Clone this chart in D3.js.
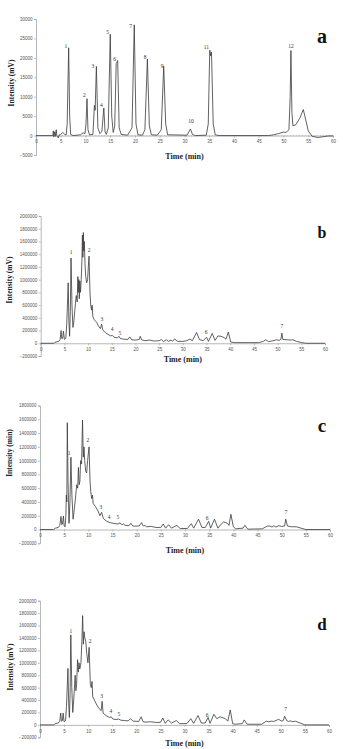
<!DOCTYPE html>
<html>
<head>
<meta charset="utf-8">
<script src="https://cdn.jsdelivr.net/npm/d3@7"></script>
<style>
  html, body { margin: 0; padding: 0; background: #fff; }
  svg { display: block; }
</style>
</head>
<body>
<svg id="chart" width="343" height="749"></svg>
<script>
// ─── Data ───
const timeTicks = [0, 5, 10, 15, 20, 25, 30, 35, 40, 45, 50, 55, 60];
const ticksA = [-5000, 0, 5000, 10000, 15000, 20000, 25000, 30000];
const ticksB = [-200000, 0, 200000, 400000, 600000, 800000, 1000000, 1200000, 1400000, 1600000, 1800000, 2000000];
const ticksC = [-200000, 0, 200000, 400000, 600000, 800000, 1000000, 1200000, 1400000, 1600000, 1800000];
const ticksD = ticksB;

// [time (min), intensity]
const traceA = [[0,0],[3.4,0],[3.5,1200],[3.6,-300],[3.8,1000],[3.9,-200],[4.1,1500],[4.2,0],[4.5,-600],[4.7,200],[5.0,300],[5.4,800],[5.8,300],[6.1,200],[6.3,3000],[6.6,22600],[6.8,5000],[7.0,300],[7.5,0],[9.0,200],[9.5,700],[9.9,500],[10.1,3000],[10.3,9500],[10.5,1500],[10.8,200],[11.5,300],[11.8,7800],[11.95,6500],[12.2,17800],[12.5,2000],[12.9,500],[13.3,1000],[13.7,7100],[13.95,1000],[14.2,300],[14.6,2000],[15.0,26100],[15.3,5000],[15.6,800],[15.9,2500],[16.2,18500],[16.5,19300],[16.8,2000],[17.2,300],[18.5,100],[19.4,2000],[19.85,28500],[20.2,3000],[20.6,200],[21.5,100],[22.0,1500],[22.5,19700],[22.9,2500],[23.3,200],[24.5,100],[25.3,1500],[25.8,17800],[26.2,3000],[26.6,200],[30.5,100],[31.0,1200],[31.2,1700],[31.6,300],[32.2,0],[34.4,100],[34.8,3000],[35.1,22000],[35.3,20500],[35.45,21500],[35.8,3000],[36.2,200],[37,0],[47,0],[48,200],[49,500],[50,900],[50.5,800],[51.1,1500],[51.35,10000],[51.5,21900],[51.7,6000],[51.9,2500],[52.5,2800],[53.3,4500],[54.0,6700],[54.5,4000],[55.0,1200],[55.8,-200],[57,-500],[58,-300],[59,-100],[60,-100]];

const traceB = [[0,0],[2.8,0],[3.0,15000],[3.8,30000],[4.1,60000],[4.3,200000],[4.45,70000],[4.65,80000],[4.8,190000],[5.0,60000],[5.3,80000],[5.5,300000],[5.8,950000],[5.95,350000],[6.1,110000],[6.25,500000],[6.4,1340000],[6.6,600000],[6.8,250000],[7.0,350000],[7.3,600000],[7.5,750000],[7.7,650000],[7.85,1050000],[7.95,800000],[8.05,1000000],[8.15,700000],[8.25,980000],[8.4,800000],[8.55,1000000],[8.7,1300000],[8.8,1700000],[8.9,1350000],[9.0,1740000],[9.1,1450000],[9.2,1600000],[9.35,1250000],[9.5,1050000],[9.7,950000],[9.9,1000000],[10.05,1200000],[10.2,1370000],[10.4,800000],[10.55,600000],[10.75,520000],[10.85,600000],[11.0,420000],[11.3,370000],[11.8,330000],[12.2,270000],[12.6,230000],[12.85,300000],[13.1,210000],[13.6,170000],[14.2,140000],[14.8,115000],[15.1,125000],[15.5,95000],[16.2,85000],[16.5,110000],[16.8,75000],[17.5,65000],[18.4,60000],[18.8,100000],[19.2,55000],[20.0,50000],[20.8,60000],[21.0,110000],[21.3,55000],[22.0,40000],[23.0,50000],[24.0,35000],[25.0,40000],[25.5,60000],[25.9,25000],[26.5,55000],[27.0,30000],[27.5,50000],[27.8,35000],[28.3,65000],[28.9,30000],[30.0,30000],[30.8,40000],[31.5,65000],[32.0,40000],[32.9,170000],[33.5,60000],[34.3,40000],[35.0,95000],[35.4,30000],[36.2,155000],[36.8,45000],[37.4,115000],[38.0,110000],[38.7,90000],[39.1,65000],[39.6,175000],[40.1,20000],[41,10000],[46,10000],[47.0,30000],[47.5,55000],[48.1,25000],[49.0,40000],[49.8,55000],[50.3,45000],[50.7,60000],[50.9,160000],[51.1,60000],[52.0,55000],[52.8,50000],[53.2,55000],[54.0,30000],[55.0,12000],[56.0,0],[60,0]];

const traceC = [[0,0],[2.8,0],[3.2,20000],[3.8,30000],[4.1,60000],[4.35,190000],[4.5,70000],[4.65,80000],[4.85,195000],[5.0,50000],[5.2,40000],[5.35,200000],[5.45,500000],[5.55,400000],[5.65,1550000],[5.8,700000],[6.0,90000],[6.2,400000],[6.4,1050000],[6.6,500000],[6.85,150000],[7.1,300000],[7.4,500000],[7.6,650000],[7.8,600000],[7.95,900000],[8.1,650000],[8.25,700000],[8.4,1000000],[8.6,950000],[8.8,1590000],[8.95,1050000],[9.1,1200000],[9.25,1000000],[9.45,850000],[9.65,820000],[9.85,1000000],[10.15,1200000],[10.35,700000],[10.5,550000],[10.7,450000],[10.85,500000],[11.0,380000],[11.5,330000],[12.0,270000],[12.4,200000],[12.75,250000],[13.1,160000],[13.8,120000],[14.5,100000],[15.5,85000],[16.3,80000],[16.5,100000],[16.9,70000],[17.3,80000],[17.6,60000],[18.4,55000],[18.8,90000],[19.2,50000],[20.5,50000],[21.0,100000],[21.4,50000],[21.7,60000],[22.0,40000],[23.0,45000],[24.0,30000],[25.0,30000],[25.5,80000],[26.0,20000],[26.6,70000],[27.2,20000],[28.3,60000],[29.0,15000],[30.5,15000],[31.3,85000],[31.8,20000],[32.8,150000],[33.5,30000],[34.2,30000],[34.9,120000],[35.3,20000],[36.1,150000],[36.8,20000],[37.5,80000],[38.0,110000],[38.8,90000],[39.1,60000],[39.5,220000],[40.0,40000],[40.5,10000],[42.0,20000],[42.4,60000],[43.0,5000],[46,10000],[47.0,50000],[47.6,50000],[48.0,35000],[48.4,55000],[48.8,35000],[49.3,55000],[50.0,45000],[50.6,50000],[50.85,150000],[51.2,50000],[52.0,40000],[53.0,40000],[54.0,20000],[55.0,0],[60,0]];

const traceD = [[0,0],[2.8,0],[3.2,20000],[3.8,30000],[4.1,60000],[4.3,190000],[4.45,60000],[4.65,70000],[4.8,190000],[5.0,50000],[5.3,70000],[5.5,300000],[5.8,910000],[5.95,350000],[6.1,120000],[6.25,500000],[6.4,1450000],[6.6,600000],[6.8,200000],[7.0,400000],[7.3,800000],[7.45,550000],[7.6,650000],[7.8,1050000],[7.95,850000],[8.1,1000000],[8.25,900000],[8.4,950000],[8.5,1000000],[8.7,1350000],[8.85,1760000],[9.0,1300000],[9.15,1500000],[9.3,1400000],[9.5,1350000],[9.7,1150000],[9.95,1000000],[10.2,1250000],[10.45,650000],[10.65,600000],[10.8,700000],[10.95,450000],[11.3,400000],[11.8,320000],[12.3,260000],[12.7,230000],[12.9,380000],[13.1,190000],[13.7,150000],[14.4,120000],[14.8,130000],[15.1,95000],[15.8,85000],[16.3,95000],[16.8,75000],[17.5,70000],[18.3,65000],[18.8,100000],[19.3,60000],[20.5,55000],[21.0,130000],[21.4,50000],[22.0,45000],[23.0,50000],[24.0,40000],[25.0,40000],[25.5,110000],[26.0,25000],[26.6,80000],[27.3,30000],[28.3,70000],[29.0,20000],[30.5,20000],[31.3,100000],[31.9,25000],[32.8,150000],[33.5,30000],[34.3,30000],[34.9,120000],[35.3,25000],[36.1,170000],[36.7,100000],[37.4,130000],[38.5,100000],[39.0,60000],[39.5,240000],[40.0,20000],[40.5,10000],[42.0,20000],[42.4,80000],[43.0,10000],[46,10000],[47.0,60000],[47.5,50000],[48.0,60000],[48.5,55000],[49.0,70000],[49.5,90000],[50.2,60000],[50.5,70000],[50.8,140000],[51.2,70000],[51.6,55000],[52.0,65000],[52.5,50000],[53.0,60000],[54.0,30000],[55.0,0],[60,0]];

// peak labels: [text, time, intensity]
const labelsA = [['1',6.05,23150],['2',9.75,10500],['3',11.5,18000],['4',13.2,7900],['5',14.45,26600],['6',15.9,19700],['7',19.1,28300],['8',22.05,20100],['9',25.5,18000],['10',31.3,3700],['11',34.4,22700],['12',51.5,23150]];
const labelsB = [['1',6.4,1427000],['2',10.2,1458000],['3',12.9,383000],['4',15.1,225000],['5',16.7,167000],['6',34.9,183000],['7',50.9,272000]];
const labelsC = [['1',6.0,1110000],['2',9.9,1294000],['3',12.6,319000],['4',14.3,183000],['5',16.1,183000],['6',34.6,168000],['7',50.9,246000]];
const labelsD = [['1',6.4,1505000],['2',10.4,1343000],['3',12.8,456000],['4',14.7,215000],['5',16.4,182000],['6',34.7,161000],['7',51.0,247000]];

// ─── Layout per panel ───
const panels = [
  { letter: 'a', trace: traceA, labels: labelsA, yTicks: ticksA, yTitle: 'Intensity (mV)',
    x: [36, 333], y: [155, 19], titleY: 159, yTitleX: 11, yTitleY: 83, letterPos: [322, 43], letterSize: 20, zeroDash: true },
  { letter: 'b', trace: traceB, labels: labelsB, yTicks: ticksB, yTitle: 'Intensity (mV)',
    x: [40.7, 325], y: [356, 216], titleY: 362, yTitleX: 9, yTitleY: 280, letterPos: [322, 238], letterSize: 16 },
  { letter: 'c', trace: traceC, labels: labelsC, yTicks: ticksC, yTitle: 'Intensity (min)',
    x: [40, 330], y: [543.3, 405.5], titleY: 553, yTitleX: 9, yTitleY: 453, letterPos: [322, 432], letterSize: 19 },
  { letter: 'd', trace: traceD, labels: labelsD, yTicks: ticksD, yTitle: 'Intensity (mV)',
    x: [40, 329], y: [737.3, 600.7], titleY: 746, yTitleX: 10, yTitleY: 667, letterPos: [322, 630], letterSize: 17 },
];

const svg = d3.select('#chart');
const AXIS = '#9a9a9a';
const TICK_TXT = '#555';
const SERIF = '"Liberation Serif", "DejaVu Serif", serif';
const SANS = '"Liberation Sans", Arial, sans-serif';

panels.forEach(p => {
  const yMin = p.yTicks[0], yMax = p.yTicks[p.yTicks.length - 1];
  const x = d3.scaleLinear().domain([0, 60]).range(p.x);
  const y = d3.scaleLinear().domain([yMin, yMax]).range(p.y);
  const g = svg.append('g');

  // y axis
  const yAxis = g.append('g')
    .attr('transform', `translate(${p.x[0]},0)`)
    .call(d3.axisLeft(y).tickValues(p.yTicks).tickSize(2).tickPadding(1.5).tickFormat(d3.format('d')));
  // x axis at zero
  const xAxis = g.append('g')
    .attr('transform', `translate(0,${y(0)})`)
    .call(d3.axisBottom(x).tickValues(timeTicks).tickSize(2).tickPadding(2.5).tickFormat(d3.format('d')));

  [yAxis, xAxis].forEach(ax => {
    ax.select('.domain').attr('stroke', AXIS).attr('stroke-width', 0.7);
    ax.selectAll('.tick line').attr('stroke', AXIS).attr('stroke-width', 0.6);
    ax.selectAll('.tick text').attr('fill', TICK_TXT).style('font-family', SANS).style('font-size', '4.5px');
  });

  if (p.zeroDash) {
    g.append('line')
      .attr('x1', x(4)).attr('x2', x(60))
      .attr('y1', y(0)).attr('y2', y(0))
      .attr('stroke', '#bbb').attr('stroke-width', 0.8)
      .attr('stroke-dasharray', '1.5,1.5');
  }

  // trace
  const line = d3.line().x(d => x(d[0])).y(d => y(d[1]));
  g.append('path')
    .datum(p.trace)
    .attr('d', line)
    .attr('fill', 'none')
    .attr('stroke', '#3a3a3a')
    .attr('stroke-width', 0.8)
    .attr('stroke-linejoin', 'round');

  // peak labels
  g.selectAll('text.peak')
    .data(p.labels)
    .join('text')
    .attr('class', 'peak')
    .attr('x', d => x(d[1]))
    .attr('y', d => y(d[2]))
    .attr('dy', '0.35em')
    .attr('text-anchor', 'middle')
    .attr('fill', '#333')
    .style('font-family', SERIF)
    .style('font-size', '5.5px')
    .text(d => d[0]);

  // titles
  g.append('text')
    .attr('x', (p.x[0] + p.x[1]) / 2)
    .attr('y', p.titleY)
    .attr('text-anchor', 'middle')
    .attr('fill', '#222')
    .style('font-family', SERIF)
    .style('font-weight', 'bold')
    .style('font-size', '8px')
    .text('Time (min)');

  g.append('text')
    .attr('transform', `translate(${p.yTitleX},${p.yTitleY}) rotate(-90)`)
    .attr('text-anchor', 'middle')
    .attr('dy', '0.35em')
    .attr('fill', '#222')
    .style('font-family', SERIF)
    .style('font-weight', 'bold')
    .style('font-size', '7.5px')
    .text(p.yTitle);

  g.append('text')
    .attr('x', p.letterPos[0])
    .attr('y', p.letterPos[1])
    .attr('text-anchor', 'middle')
    .attr('fill', '#111')
    .style('font-family', SERIF)
    .style('font-weight', 'bold')
    .style('font-size', p.letterSize + 'px')
    .text(p.letter);
});
</script>
</body>
</html>
